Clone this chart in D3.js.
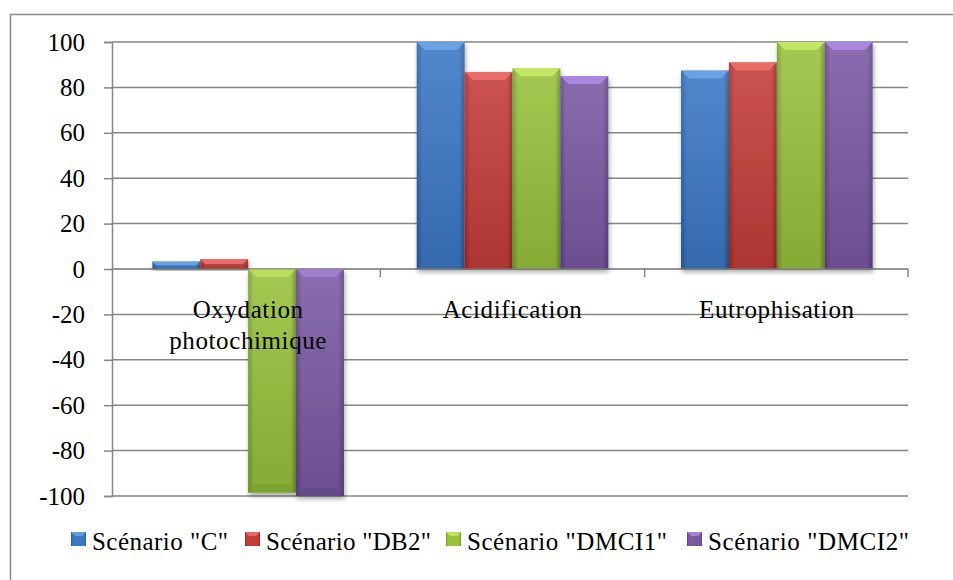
<!DOCTYPE html>
<html><head><meta charset="utf-8">
<script src="https://cdn.jsdelivr.net/npm/d3@7"></script>
</head>
<body style="margin:0">
<svg id="chart" width="953" height="580"></svg>
<script>
const categories = ["Oxydation\nphotochimique", "Acidification", "Eutrophisation"];
const seriesNames = ['Scénario "C"', 'Scénario "DB2"', 'Scénario "DMCI1"', 'Scénario "DMCI2"'];
const valuesC     = [3.3, 100, 87.4];
const valuesDB2   = [4.4, 86.8, 91];
const valuesDMCI1 = [-98.5, 88.4, 100];
const valuesDMCI2 = [-100, 85, 100];
const yTicks = [-100, -80, -60, -40, -20, 0, 20, 40, 60, 80, 100];
const colors = [
  {base:"#3A78C4", light:"#6FA6E8", dark:"#2A5C9E"},
  {base:"#C43C39", light:"#EE7370", dark:"#9C2B28"},
  {base:"#98C23B", light:"#C8EC66", dark:"#76992A"},
  {base:"#7A59A3", light:"#B08CE6", dark:"#5C4282"}
];
const allValues = [valuesC, valuesDB2, valuesDMCI1, valuesDMCI2];
const FONT = '"Liberation Serif", monospace';

const svg = d3.select("#chart");
const plotL = 112, plotR = 908, plotT = 42, plotB = 496;

svg.append("rect").attr("x",10.5).attr("y",14.5).attr("width",960).attr("height",600)
  .attr("fill","none").attr("stroke","#8a8a8a").attr("stroke-width",1.5);

const y = d3.scaleLinear().domain([-100,100]).range([plotB, plotT]);
const x0 = d3.scaleBand().domain(d3.range(categories.length)).range([116, 909]).padding(0);
const x1 = d3.scaleBand().domain(d3.range(seriesNames.length)).range([0, x0.bandwidth()]).paddingInner(0).paddingOuter(0.76);

const defs = svg.append("defs");
colors.forEach((c,i)=>{
  const g = defs.append("linearGradient").attr("id","g"+i).attr("x1","0").attr("x2","1").attr("y1","0").attr("y2","0");
  g.append("stop").attr("offset","0").attr("stop-color",c.dark);
  g.append("stop").attr("offset","0.12").attr("stop-color",c.base);
  g.append("stop").attr("offset","0.5").attr("stop-color",c.base);
  g.append("stop").attr("offset","0.88").attr("stop-color",c.base);
  g.append("stop").attr("offset","1").attr("stop-color",c.dark);
  const gv = defs.append("linearGradient").attr("id","gv"+i).attr("x1","0").attr("x2","0").attr("y1","0").attr("y2","1");
  gv.append("stop").attr("offset","0").attr("stop-color","#fff").attr("stop-opacity",0.12);
  gv.append("stop").attr("offset","1").attr("stop-color","#000").attr("stop-opacity",0.12);
});
const f = defs.append("filter").attr("id","sh").attr("x","-20%").attr("y","-20%").attr("width","140%").attr("height","140%");
f.append("feGaussianBlur").attr("in","SourceAlpha").attr("stdDeviation",2.5);
f.append("feOffset").attr("dx",1).attr("dy",3).attr("result","b");
f.append("feComponentTransfer").append("feFuncA").attr("type","linear").attr("slope",0.35);
const fm = f.append("feMerge"); fm.append("feMergeNode"); fm.append("feMergeNode").attr("in","SourceGraphic");

svg.append("g").selectAll("line").data(yTicks).join("line")
  .attr("x1",plotL).attr("x2",plotR).attr("y1",d=>y(d)).attr("y2",d=>y(d))
  .attr("stroke","#868686").attr("stroke-width",1.5);

const yAxis = d3.axisLeft(y).tickValues(yTicks).tickSize(8).tickPadding(19).tickFormat(d=>String(d));
const ya = svg.append("g").attr("transform",`translate(${plotL},0)`).call(yAxis);
ya.attr("font-family",null).attr("font-size",null);
ya.select(".domain").attr("stroke","#868686").attr("stroke-width",1.5);
ya.selectAll(".tick line").attr("stroke","#868686").attr("stroke-width",1.5);
ya.selectAll(".tick text").attr("font-size",25).attr("font-family",FONT).style("font-family",FONT).attr("fill","#000");

const bounds = d3.range(1, categories.length+1).map(i => i < categories.length ? x0(i) : plotR);
svg.append("g").selectAll("line").data(bounds).join("line")
  .attr("x1",d=>d).attr("x2",d=>d).attr("y1",y(0)).attr("y2",y(0)+8)
  .attr("stroke","#868686").attr("stroke-width",1.5);

const barG = svg.append("g");
categories.forEach((cat,ci)=>{
  allValues.forEach((vals,si)=>{
    const v = vals[ci];
    const bx = x0(ci) + x1(si), bw = x1.bandwidth();
    const top = Math.min(y(v), y(0)), h = Math.abs(y(v)-y(0));
    const g = barG.append("g").attr("filter","url(#sh)");
    g.append("rect").attr("x",bx).attr("y",top).attr("width",bw).attr("height",h).attr("fill",`url(#g${si})`);
    g.append("rect").attr("x",bx).attr("y",top).attr("width",bw).attr("height",h).attr("fill",`url(#gv${si})`);
    const bev = Math.min(8, h/2);
    if (v >= 0) {
      g.append("path").attr("d",`M${bx},${top}L${bx+bw},${top}L${bx+bw-bev},${top+bev}L${bx+bev},${top+bev}Z`)
        .attr("fill",colors[si].light).attr("opacity",0.85);
    } else {
      const bot = top + h;
      g.append("path").attr("d",`M${bx},${top}L${bx+bw},${top}L${bx+bw-bev},${top+bev}L${bx+bev},${top+bev}Z`)
        .attr("fill",colors[si].light).attr("opacity",0.6);
      g.append("path").attr("d",`M${bx},${bot}L${bx+bw},${bot}L${bx+bw-bev},${bot-bev}L${bx+bev},${bot-bev}Z`)
        .attr("fill",colors[si].dark).attr("opacity",0.5);
    }
  });
});

svg.append("line").attr("x1",plotL).attr("x2",plotR).attr("y1",y(0)).attr("y2",y(0))
  .attr("stroke","#868686").attr("stroke-width",1.5).attr("opacity",0.6);

categories.forEach((cat,ci)=>{
  const lines = cat.split("\n");
  const cx = x0(ci)+x0.bandwidth()/2;
  const t = svg.append("text").attr("text-anchor","middle").attr("font-size",25)
    .attr("font-family",FONT).style("font-family",FONT)
    .attr("letter-spacing","0.6px").attr("x", cx).attr("y", y(0)+49).attr("fill","#000");
  lines.forEach((ln,li)=>{
    t.append("tspan").attr("x", cx).attr("dy", li===0?0:31).text(ln);
  });
});

const legendX = [71, 245, 446, 687];
const legendW = [136, 165, 200, 201];
const leg = svg.append("g");
seriesNames.forEach((n,i)=>{
  const g = leg.append("g").attr("transform",`translate(${legendX[i]},532)`);
  g.append("rect").attr("width",15).attr("height",14).attr("fill",`url(#g${i})`);
  g.append("path").attr("d","M0,0L15,0L11,4L4,4Z").attr("fill",colors[i].light).attr("opacity",0.8);
  g.append("text").attr("x",21).attr("y",18).attr("font-size",25)
    .attr("font-family",FONT).style("font-family",FONT).attr("fill","#000")
    .attr("textLength",legendW[i]).attr("lengthAdjust","spacing").text(n);
});
</script>
</body></html>
